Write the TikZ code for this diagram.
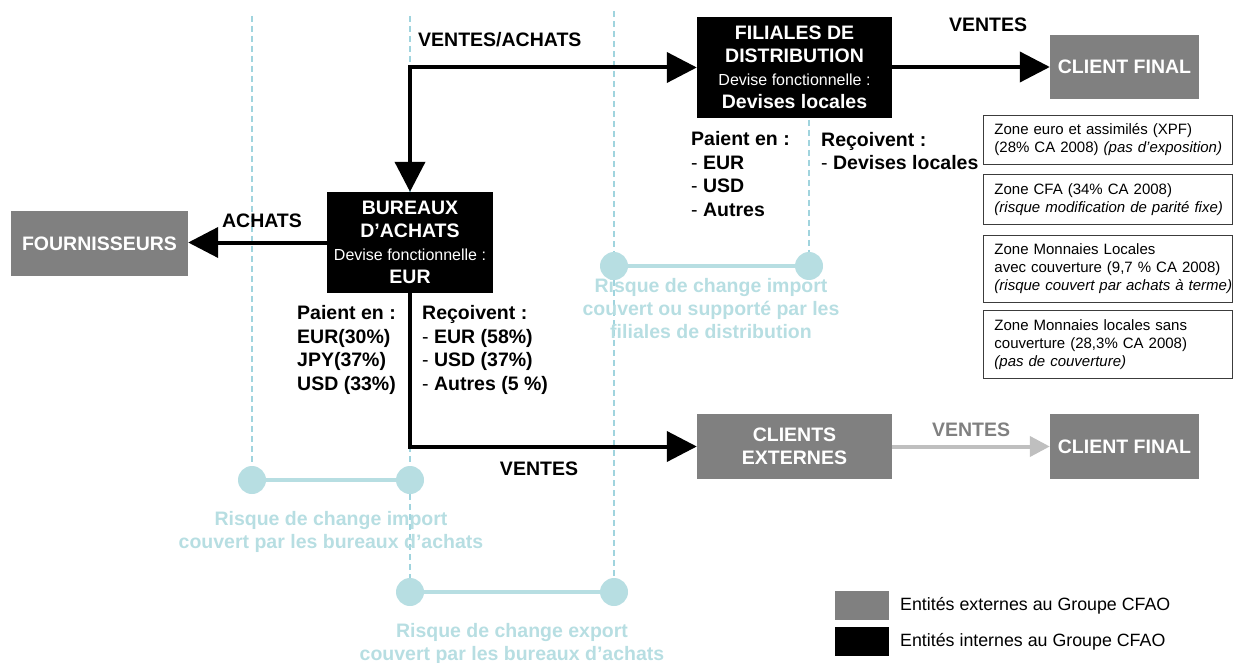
\documentclass[tikz,border=0pt]{standalone}
\usepackage{fontspec}
\setmainfont{Liberation Sans}
\usetikzlibrary{arrows.meta}

\definecolor{riskblue}{RGB}{183,222,226}
\definecolor{guideblue}{RGB}{160,212,222}
\definecolor{extgray}{RGB}{128,128,128}
\definecolor{flowgray}{RGB}{191,191,191}
\definecolor{zoneframe}{RGB}{60,60,60}

\begin{document}
\begin{tikzpicture}[x=1pt,y=-1pt,
  boldtxt/.style={inner sep=0pt,font=\fontsize{19.5}{23.8}\selectfont\bfseries},
  plaintxt/.style={inner sep=0pt,font=\fontsize{17.8}{20}\selectfont},
  internal/.style={fill=black,text=white,inner sep=0pt,align=center,
    font=\fontsize{19.5}{23}\selectfont\bfseries},
  external/.style={fill=extgray,text=white,inner sep=0pt,align=center,
    font=\fontsize{19.5}{23}\selectfont\bfseries},
  flow/.style={line width=4pt,-{Triangle[length=30pt 0 0,width=30pt 0 0]}},
  twoway/.style={line width=4pt,{Triangle[length=30pt 0 0,width=30pt 0 0]}-{Triangle[length=30pt 0 0,width=30pt 0 0]}},
  grayflow/.style={line width=4pt,flowgray,-{Triangle[length=20pt 0 0,width=20pt 0 0]}},
  guide/.style={guideblue,line width=1.3pt,dash pattern=on 6pt off 4pt},
  riskdot/.style={circle,fill=riskblue,minimum size=28pt,inner sep=0pt},
  risklink/.style={riskblue,line width=4pt},
  risktxt/.style={text=riskblue,align=center,inner sep=0pt,
    font=\fontsize{19.5}{23}\selectfont\bfseries},
  zone/.style={draw=zoneframe,line width=0.9pt,anchor=north west,
    minimum width=249pt,text width=227pt,inner xsep=11pt,inner ysep=0pt,
    align=left,font=\fontsize{15}{18}\selectfont},
  legendbox/.style={minimum width=54pt,minimum height=29pt,inner sep=0pt,anchor=north west}
]
\useasboundingbox (0,0) rectangle (1234,663);

% risk guide lines and their end dots
\coordinate (g1top) at (252,16);
\coordinate (g2top) at (410,16);
\coordinate (g3top) at (614,11);
\coordinate (g4top) at (809,20);
\node[riskdot] (r1a) at (252,480) {};
\node[riskdot] (r1b) at (410,480) {};
\node[riskdot] (r2a) at (410,592) {};
\node[riskdot] (r2b) at (614,592) {};
\node[riskdot] (r3a) at (614,266) {};
\node[riskdot] (r3b) at (809,266) {};
\draw[guide] (g1top) -- (r1a);
\draw[guide] (g2top) -- (r1b);
\draw[guide] (r1b) -- (r2a);
\draw[guide] (g3top) -- (r3a);
\draw[guide] (r3a) -- (r2b);
\draw[guide] (g4top) -- (r3b);
\draw[risklink] (r1a) -- (r1b);
\draw[risklink] (r2a) -- (r2b);
\draw[risklink] (r3a) -- (r3b);

\node[risktxt] (risk1) at (331,532) {Risque de change import\\couvert par les bureaux d’achats};
\node[risktxt] (risk2) at (512,643.5) {Risque de change export\\couvert par les bureaux d’achats};
\node[risktxt] (risk3) at (711,308.5) {Risque de change import\\couvert ou supporté par les\\filiales de distribution};

% entities
\node[internal,minimum width=195pt,minimum height=101pt] (fil) at (794.5,67.5)
  {FILIALES DE\\DISTRIBUTION\\{\mdseries\fontsize{16}{19}\selectfont Devise fonctionnelle :}\\Devises locales};
\node[internal,minimum width=166pt,minimum height=101pt] (bur) at (410,242.5)
  {BUREAUX\\D’ACHATS\\{\mdseries\fontsize{16}{19}\selectfont Devise fonctionnelle :}\\EUR};
\node[external,minimum width=177pt,minimum height=65pt] (four) at (99.5,243.5) {FOURNISSEURS};
\node[external,minimum width=149pt,minimum height=64pt] (cf1) at (1124.5,67) {CLIENT FINAL};
\node[external,minimum width=195pt,minimum height=65pt] (ce) at (794.5,446.5) {CLIENTS\\EXTERNES};
\node[external,minimum width=149pt,minimum height=65pt] (cf2) at (1124.5,446.5) {CLIENT FINAL};

% flows
\draw[twoway] (bur.north) |- (fil.west);
\draw[flow] (bur.south) |- (ce.west);
\draw[flow] (bur.west) -- (four.east |- bur.west);
\draw[flow] (fil.east |- cf1.west) -- (cf1.west);
\draw[grayflow] (ce.east) -- (cf2.west);

% flow labels
\node[boldtxt,anchor=west] (lva) at (418,40) {VENTES/ACHATS};
\node[boldtxt] (lv1) at (988,25) {VENTES};
\node[boldtxt] (la) at (262,221) {ACHATS};
\node[boldtxt] (lv2) at (539,469) {VENTES};
\node[boldtxt,text=extgray] (lv3) at (971,430) {VENTES};

% currencies paid and received
\node[boldtxt,anchor=west,align=left] (burpay) at (297,350)
  {Paient en :\\EUR(30\%)\\JPY(37\%)\\USD (33\%)};
\node[boldtxt,anchor=west,align=left] (burrec) at (422,350)
  {Reçoivent :\\{\mdseries -} EUR (58\%)\\{\mdseries -} USD (37\%)\\{\mdseries -} Autres (5 \%)};
\node[boldtxt,anchor=west,align=left] (filpay) at (691,174)
  {Paient en :\\{\mdseries -} EUR\\{\mdseries -} USD\\{\mdseries -} Autres};
\node[boldtxt,anchor=west,align=left] (filrec) at (821,151)
  {Reçoivent :\\{\mdseries -} Devises locales};

% currency zones
\node[zone,minimum height=49pt] (z1) at (983,115)
  {\mbox{Zone euro et assimilés (XPF)}\\\mbox{(28\% CA 2008) \textit{(pas d’exposition)}}};
\node[zone,minimum height=50pt] (z2) at (983,174)
  {\mbox{Zone CFA (34\% CA 2008)}\\\mbox{\textit{(risque modification de parité fixe)}}};
\node[zone,minimum height=67pt] (z3) at (983,235)
  {\mbox{Zone Monnaies Locales}\\\mbox{avec couverture (9,7 \% CA 2008)}\\\mbox{\textit{(risque couvert par achats à terme)}}};
\node[zone,minimum height=68pt] (z4) at (983,310)
  {\mbox{Zone Monnaies locales sans}\\\mbox{couverture (28,3\% CA 2008)}\\\mbox{\textit{(pas de couverture)}}};

% legend
\node[legendbox,fill=extgray] (legext) at (835,591) {};
\node[legendbox,fill=black] (legint) at (835,627) {};
\node[plaintxt,anchor=west] (legexttxt) at (900,606) {Entités externes au Groupe CFAO};
\node[plaintxt,anchor=west] (leginttxt) at (900,642) {Entités internes au Groupe CFAO};
\end{tikzpicture}
\end{document}
